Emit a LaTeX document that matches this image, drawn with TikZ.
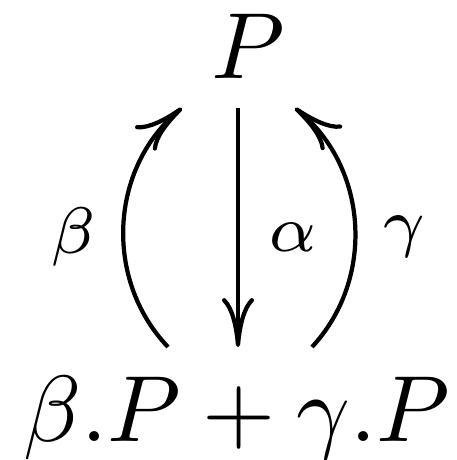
\documentclass[tikz,border=0pt]{standalone}
\usetikzlibrary{arrows.meta}
\begin{document}
\begin{tikzpicture}[x=0.1064pt,y=-0.1064pt,
  obj/.style={inner sep=0pt,anchor=base west},
  lbl/.style={inner sep=0pt,anchor=center},
  arr/.style={line width=0.45pt,-{Computer Modern Rightarrow[length=5.2pt,width=3.4pt]}}]
\useasboundingbox (0,0) rectangle (457,460);
\node[obj] (top) at (210,79) {$P$};
\node[obj] (bot) at (22,442) {$\beta.P+\gamma.P$};
\coordinate (a1) at (238,108);
\coordinate (a2) at (238,347);
\coordinate (b1) at (168,347);
\coordinate (b2) at (182,108);
\coordinate (c1) at (312,347);
\coordinate (c2) at (295,108);
\draw[arr] (a1) -- (a2);
\draw[arr] (b1) to[bend left=47] (b2);
\draw[arr] (c1) to[bend right=47] (c2);
\node[lbl] (la) at (293,237) {$\scriptstyle\alpha$};
\node[lbl] (lb) at (73,237) {$\scriptstyle\beta$};
\node[lbl] (lc) at (404,237) {$\scriptstyle\gamma$};
\end{tikzpicture}
\end{document}
